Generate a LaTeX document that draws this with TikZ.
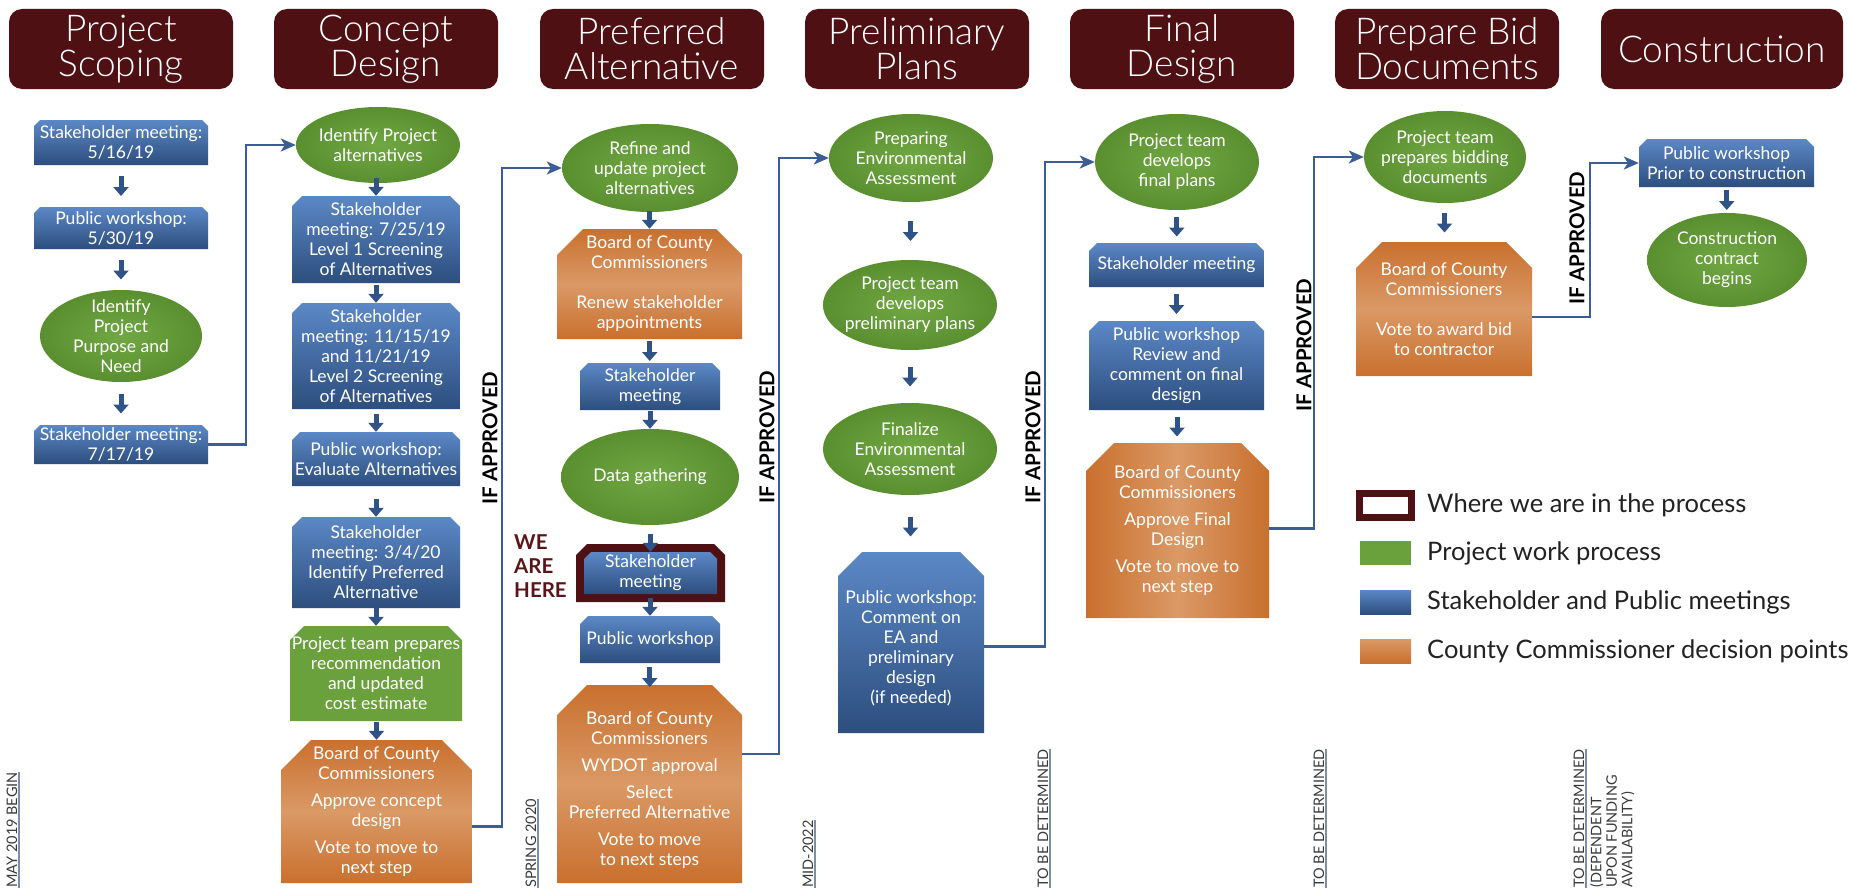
\documentclass[tikz,border=0pt]{standalone}
\usepackage{fontspec}
\setmainfont{Lato}
\newfontfamily\hdrfont{Lato Light}
\usetikzlibrary{arrows.meta,calc,shapes.geometric}
\definecolor{hdr}{HTML}{4F1014}
\definecolor{bluetop}{HTML}{5B88C6}
\definecolor{bluebot}{HTML}{2D4E7E}
\definecolor{grn}{HTML}{6AA13D}
\definecolor{grnin}{HTML}{70A843}
\definecolor{grnout}{HTML}{5A8F30}
\definecolor{ordark}{HTML}{C9702E}
\definecolor{orlight}{HTML}{DA9966}
\definecolor{arrb}{HTML}{2F5386}
\definecolor{conncol}{HTML}{3D5E95}
\definecolor{weare}{HTML}{5A1519}
\definecolor{tlgray}{HTML}{3A3A3A}
\definecolor{tlline}{HTML}{7D8DAA}
\definecolor{legtext}{HTML}{222222}

\tikzset{
  boxtxt/.style={text=white, align=center, inner sep=0pt, font=\fontsize{17.5}{20}\selectfont},
  bluefill/.style={top color=bluetop, bottom color=bluebot},
  greenfill/.style={fill=grn},
  orangefill/.style={top color=ordark, bottom color=ordark, middle color=orlight},
  orangefillh/.style={left color=ordark, right color=ordark, middle color=orlight},
  ellshape/.style={ellipse, inner sep=0pt, inner color=grnin, outer color=grnout},
  hdrbox/.style={fill=hdr, rounded corners=13pt, text=white, align=center, inner sep=0pt,
    font=\hdrfont\fontsize{37}{35}\selectfont},
  barrow/.style={draw=arrb, line width=5pt, -{Triangle[width=15pt,length=9pt]}},
  conn/.style={draw=conncol, line width=2.3pt, -{Stealth[length=15pt,width=13pt,inset=4pt]}},
  ifapp/.style={rotate=90, font=\fontsize{20.5}{22}\bfseries, text=black, inner sep=0pt},
  tl/.style={rotate=90, anchor=south west, inner xsep=0pt, inner ysep=1.5pt, text=tlgray,
    font=\fontsize{14.5}{15.5}\selectfont},
  tlu/.style={draw=tlline, line width=1.2pt},
  legtxt/.style={anchor=west, inner sep=0pt, text=legtext, font=\fontsize{25.5}{28}\selectfont},
  legbox/.style={minimum width=51pt, minimum height=24pt, inner sep=0pt},
}

% name, x1, y1, x2, y2, chamfer, fill style, node options, text
\newcommand{\mybox}[9]{%
  \pgfmathsetmacro\bw{#4-#2}%
  \pgfmathsetmacro\bh{#5-#3}%
  \path[#7] (#2,#5) -- (#2,#3+#6) -- (#2+#6,#3) -- (#4-#6,#3) -- (#4,#3+#6) -- (#4,#5) -- cycle;
  \node[boxtxt, minimum width=\bw pt, minimum height=\bh pt, #8] (#1) at ({(#2+#4)/2},{(#3+#5)/2}) {#9};
}
% name, cx, cy, rx, ry, text
\newcommand{\myell}[6]{%
  \pgfmathsetmacro\ew{2*#4}%
  \pgfmathsetmacro\eh{2*#5}%
  \node[ellshape, minimum width=\ew pt, minimum height=\eh pt] (#1) at (#2,#3) {};
  \node[boxtxt] (#1t) at (#2,#3) {#6};
}
\newcommand{\darr}[2]{\draw[barrow] ($(#1.south)!0.5!(#2.north)+(0,-10)$) -- ($(#1.south)!0.5!(#2.north)+(0,10)$);}
\newcommand{\darrb}[2]{\draw[barrow] ($(#2.north)+(0,-18)$) -- (#2.north);}

\begin{document}
\begin{tikzpicture}[x=1pt,y=-1pt]
\useasboundingbox (0,0) rectangle (1852,891);
\fill[white] (0,0) rectangle (1852,891);

% ---------- headers ----------
\node[hdrbox, minimum width=224pt, minimum height=80pt] (h1) at (121,49) {Project\\Scoping};
\node[hdrbox, minimum width=224pt, minimum height=80pt] (h2) at (386,49) {Concept\\Design};
\node[hdrbox, minimum width=224pt, minimum height=80pt] (h3) at (652,49) {Preferred\\Alternative};
\node[hdrbox, minimum width=224pt, minimum height=80pt] (h4) at (917,49) {Preliminary\\Plans};
\node[hdrbox, minimum width=224pt, minimum height=80pt] (h5) at (1182,49) {Final\\Design};
\node[hdrbox, minimum width=224pt, minimum height=80pt] (h6) at (1447,49) {Prepare Bid\\Documents};
\node[hdrbox, minimum width=242pt, minimum height=80pt] (h7) at (1722,49) {Construction};

% ---------- column 1 ----------
\mybox{n11}{34}{120}{208}{165}{6}{bluefill}{}{Stakeholder meeting:\\5/16/19}
\mybox{n12}{34}{207}{208}{249}{6}{bluefill}{}{Public workshop:\\5/30/19}
\myell{e13}{121}{336}{81}{46}{Identify\\Project\\Purpose and\\Need}
\mybox{n14}{34}{425}{208}{464}{6}{bluefill}{}{Stakeholder meeting:\\7/17/19}
\darr{n11}{n12}
\darr{n12}{e13}
\darr{e13}{n14}

% ---------- column 2 ----------
\myell{e21}{378}{145}{82}{38}{Identify Project\\alternatives}
\mybox{n22}{292}{196}{460}{283}{10}{bluefill}{}{Stakeholder\\meeting: 7/25/19\\Level 1 Screening\\of Alternatives}
\mybox{n23}{292}{303}{460}{409}{10}{bluefill}{}{Stakeholder\\meeting: 11/15/19\\and 11/21/19\\Level 2 Screening\\of Alternatives}
\mybox{n24}{292}{432}{460}{486}{8}{bluefill}{}{Public workshop:\\Evaluate Alternatives}
\mybox{n25}{292}{517}{460}{608}{10}{bluefill}{}{Stakeholder\\meeting: 3/4/20\\Identify Preferred\\Alternative}
\mybox{n26}{290}{626}{462}{721}{14}{greenfill}{}{Project team prepares\\recommendation\\and updated\\cost estimate}
\mybox{n27}{281}{740}{472}{883}{30}{orangefill}{}{Board of County\\Commissioners\\[7pt]Approve concept\\design\\[7pt]Vote to move to\\next step}
\darrb{e21}{n22}
\darrb{n22}{n23}
\darrb{n23}{n24}
\darrb{n24}{n25}
\darrb{n25}{n26}
\darrb{n26}{n27}

% ---------- column 3 ----------
\myell{e31}{650}{168}{88}{44}{Refine and\\update project\\alternatives}
\mybox{n32}{557}{229}{742}{339}{26}{orangefill}{}{Board of County\\Commissioners\\[20pt]Renew stakeholder\\appointments}
\mybox{n33}{580}{363}{720}{410}{8}{bluefill}{}{Stakeholder\\meeting}
\myell{e34}{650}{477}{89}{48}{Data gathering}
\path[fill=hdr] (576,602) -- (576,555) -- (587,544) -- (714,544) -- (725,555) -- (725,602) -- cycle;
\mybox{n35}{584}{552}{717}{594}{7}{bluefill}{}{Stakeholder\\meeting}
\mybox{n36}{580}{616}{720}{663}{8}{bluefill}{}{Public workshop}
\mybox{n37}{557}{685}{742}{883}{30}{orangefill}{yshift=-6pt}{Board of County\\Commissioners\\[7pt]WYDOT approval\\[7pt]Select\\Preferred Alternative\\[7pt]Vote to move\\to next steps}
\darrb{e31}{n32}
\darr{n32}{n33}
\darrb{n33}{e34}
\darrb{e34}{n35}
\darrb{n35}{n36}
\darr{n36}{n37}
\node[anchor=north west, align=left, inner sep=0pt, text=weare,
  font=\fontsize{20.5}{24}\bfseries] (wah) at (514,534) {WE\\ARE\\HERE};

% ---------- column 4 ----------
\myell{e41}{911}{158}{82}{44}{Preparing\\Environmental\\Assessment}
\myell{e42}{910}{305}{87}{45}{Project team\\develops\\preliminary plans}
\myell{e43}{910}{449}{87}{46}{Finalize\\Environmental\\Assessment}
\mybox{n44}{838}{552}{984}{733}{24}{bluefill}{yshift=-6pt}{Public workshop:\\Comment on\\EA and\\preliminary\\design\\(if needed)}
\darr{e41}{e42}
\darr{e42}{e43}
\darr{e43}{n44}

% ---------- column 5 ----------
\myell{e51}{1177}{162}{82}{48}{Project team\\develops\\final plans}
\mybox{n52}{1089}{243}{1264}{287}{8}{bluefill}{}{Stakeholder meeting}
\mybox{n53}{1089}{321}{1264}{410}{10}{bluefill}{}{Public workshop\\Review and\\comment on final\\design}
\mybox{n54}{1086}{443}{1269}{618}{28}{orangefillh}{}{Board of County\\Commissioners\\[7pt]Approve Final\\Design\\[7pt]Vote to move to\\next step}
\darr{e51}{n52}
\darr{n52}{n53}
\darr{n53}{n54}

% ---------- column 6 ----------
\myell{e61}{1445}{157}{81}{46}{Project team\\prepares bidding\\documents}
\mybox{n62}{1356}{242}{1532}{376}{26}{orangefill}{}{Board of County\\Commissioners\\[20pt]Vote to award bid\\to contractor}
\darr{e61}{n62}

% ---------- column 7 ----------
\mybox{n71}{1639}{139}{1814}{187}{8}{bluefill}{}{Public workshop\\Prior to construction}
\myell{e72}{1727}{260}{80}{47}{Construction\\contract\\begins}
\darr{n71}{e72}

% ---------- connectors between phases ----------
\draw[conn] (n14.east) -- ++(38,0) |- (e21.west);
\draw[conn] ([yshift=-15pt]n27.east) -- ++(30,0) |- (e31.west);
\draw[conn] ([yshift=36pt]n37.east) -- ++(37,0) |- (e41.west);
\draw[conn] ([yshift=2pt]n44.east) -- ++(61,0) |- (e51.west);
\draw[conn] ([yshift=2pt]n54.east) -- ++(45,0) |- (e61.west);
\draw[conn] ([yshift=-8pt]n62.east) -- ++(58,0) |- (n71.west);

\node[ifapp] (ia1) at (490,438) {IF APPROVED};
\node[ifapp] (ia2) at (767,437) {IF APPROVED};
\node[ifapp] (ia3) at (1033,437) {IF APPROVED};
\node[ifapp] (ia4) at (1304,345) {IF APPROVED};
\node[ifapp] (ia5) at (1577,238) {IF APPROVED};

% ---------- timeline labels ----------
\node[tl] (t1) at (19,888) {MAY 2019 BEGIN};
\draw[tlu] (t1.south west) -- (t1.south east);
\node[tl] (t2) at (538,888) {SPRING 2020};
\draw[tlu] (t2.south west) -- (t2.south east);
\node[tl] (t3) at (815,888) {MID-2022};
\draw[tlu] (t3.south west) -- (t3.south east);
\node[tl] (t4) at (1050,888) {TO BE DETERMINED};
\draw[tlu] (t4.south west) -- (t4.south east);
\node[tl] (t5) at (1326,888) {TO BE DETERMINED};
\draw[tlu] (t5.south west) -- (t5.south east);
\node[tl] (t6) at (1586,888) {TO BE DETERMINED};
\draw[tlu] (t6.south west) -- (t6.south east);
\node[rotate=90, anchor=north west, align=left, inner sep=0pt, text=tlgray,
  font=\fontsize{14.5}{15.5}\selectfont] (t6b) at (1590,888) {(DEPENDENT\\UPON FUNDING\\AVAILABILITY)};

% ---------- legend ----------
\node[draw=hdr, line width=7pt, fill=white, minimum width=52pt, minimum height=24pt, inner sep=0pt] (lg1) at (1385.5,505) {};
\node[legbox, fill=grn] (lg2) at (1385.5,553) {};
\node[legbox, top color=bluetop, bottom color=bluebot] (lg3) at (1385.5,602) {};
\node[legbox, top color=orlight, bottom color=ordark] (lg4) at (1385.5,651) {};
\node[legtxt] (lt1) at (1427,505) {Where we are in the process};
\node[legtxt] (lt2) at (1427,553) {Project work process};
\node[legtxt] (lt3) at (1427,602) {Stakeholder and Public meetings};
\node[legtxt] (lt4) at (1427,651) {County Commissioner decision points};
\end{tikzpicture}
\end{document}
